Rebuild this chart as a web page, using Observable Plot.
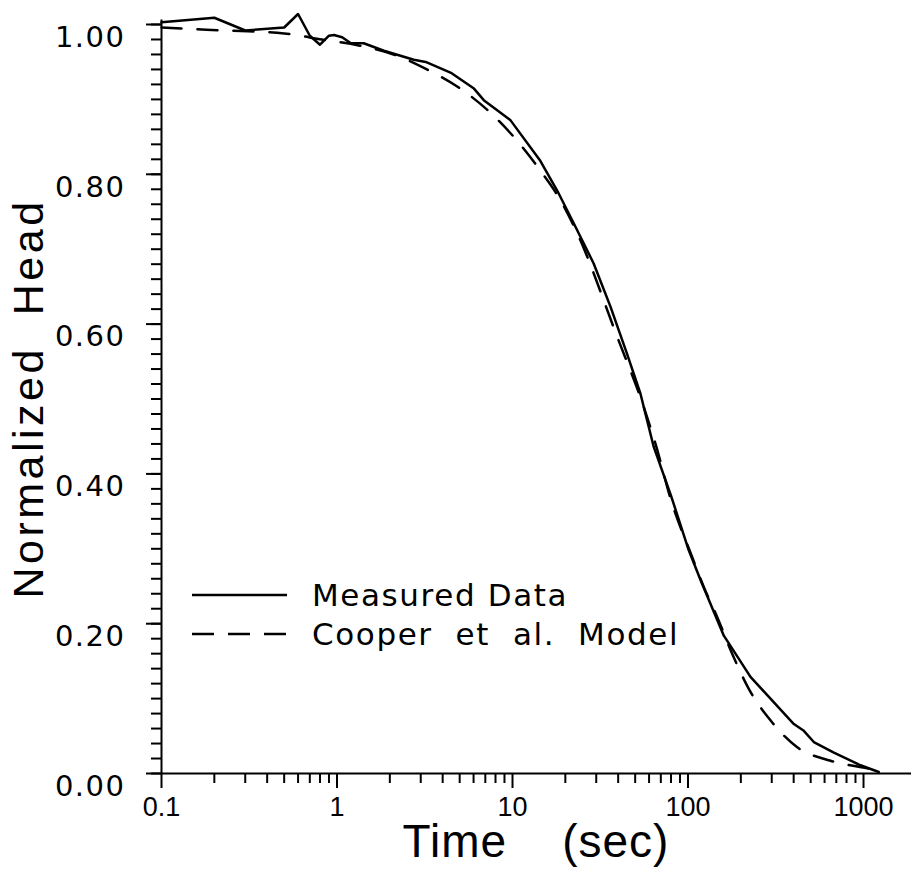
<!DOCTYPE html>
<html><head><meta charset="utf-8">
<script src="https://cdn.jsdelivr.net/npm/d3@7"></script>
<script src="https://cdn.jsdelivr.net/npm/@observablehq/plot@0.6"></script>
<style>
html,body{margin:0;padding:0;background:#fff;}
#chart{position:relative;width:911px;height:870px;}
#chart svg{overflow:visible;}
</style></head><body><div id="chart"></div>
<script>
// ---- data ----
const measuredTime = [0.1, 0.2, 0.3, 0.5, 0.6, 0.7, 0.8, 0.9, 0.96, 1.07, 1.2, 1.42, 1.85, 2.74, 3.2, 4.5, 6.0, 6.86, 9.75, 14.4, 18.0, 22.4, 29.0, 36.2, 45.0, 53.6, 63.8, 80, 101, 118, 160, 227, 401, 457, 521, 678, 961, 1222];
const measuredHead = [1.003, 1.009, 0.992, 0.996, 1.014, 0.985, 0.973, 0.985, 0.986, 0.983, 0.975, 0.975, 0.965, 0.953, 0.950, 0.935, 0.915, 0.899, 0.872, 0.818, 0.778, 0.734, 0.681, 0.623, 0.560, 0.507, 0.436, 0.371, 0.298, 0.258, 0.184, 0.129, 0.066, 0.057, 0.042, 0.028, 0.011, 0.002];
const modelTime = [0.1, 0.18, 0.31, 0.5, 0.82, 1.33, 2.16, 3.19, 5.0, 7.5, 10.6, 14.4, 18.8, 23.4, 39.5, 56, 65.3, 80, 105.6, 123, 146.6, 178.5, 222, 295, 419, 649, 1097, 1200];
const modelHead = [0.996, 0.993, 0.991, 0.988, 0.980, 0.972, 0.959, 0.941, 0.915, 0.882, 0.845, 0.805, 0.765, 0.721, 0.583, 0.489, 0.440, 0.365, 0.289, 0.249, 0.209, 0.160, 0.113, 0.071, 0.035, 0.017, 0.006, 0.004];
const seriesNames = ["Measured Data", "Cooper  et  al.  Model"];
const xMajorTicks = [0.1, 1, 10, 100, 1000];
const xTickLabels = ["0.1", "1", "10", "100", "1000"];
const yMajorTicks = [0, 0.2, 0.4, 0.6, 0.8, 1.0];
const yTickLabels = ["0.00", "0.20", "0.40", "0.60", "0.80", "1.00"];
const xTitle = "Time    (sec)";
const yTitle = "Normalized  Head";
const xDomain = [0.1, 1877];
const yDomain = [0, 1];

// minor ticks
const xMinorTicks = [];
for (const d of xMajorTicks) for (let k = 2; k <= 9; k++) if (d * k <= xDomain[1]) xMinorTicks.push(d * k);
const yMinorTicks = d3.range(0, 51).map(i => +(i * 0.02).toFixed(2));

const measured = measuredTime.map((t, i) => ({t, h: measuredHead[i]}));
const model = modelTime.map((t, i) => ({t, h: modelHead[i]}));

const chart = Plot.plot({
  width: 911,
  height: 870,
  marginLeft: 161,
  marginRight: 0,
  marginTop: 24,
  marginBottom: 97,
  style: {background: "#fff", color: "#000", overflow: "visible"},
  x: {type: "log", domain: xDomain, axis: null},
  y: {domain: yDomain, axis: null},
  marks: [
    Plot.axisX(xMinorTicks, {tickSize: 10, text: null, strokeWidth: 2, label: null}),
    Plot.axisX(xMajorTicks, {tickSize: 15, strokeWidth: 2, tickPadding: 8, label: null,
      tickFormat: d => xTickLabels[xMajorTicks.indexOf(d)], fontSize: 27, fontFamily: "Liberation Sans"}),
    Plot.axisY(yMinorTicks, {tickSize: 10, text: null, strokeWidth: 2, label: null}),
    Plot.axisY(yMajorTicks, {tickSize: 15, strokeWidth: 2, tickPadding: 21, label: null,
      tickFormat: d => yTickLabels[yMajorTicks.indexOf(d)], fontSize: 29, fontFamily: "DejaVu Sans"}),
    Plot.ruleY([0], {stroke: "#000", strokeWidth: 2}),
    Plot.ruleX([0.1], {y1: 0, y2: 1.006, stroke: "#000", strokeWidth: 2}),
    Plot.line(model, {x: "t", y: "h", stroke: "#000", strokeWidth: 2.5, strokeDasharray: "20,16", curve: "monotone-x"}),
    Plot.line(measured, {x: "t", y: "h", stroke: "#000", strokeWidth: 2.5})
  ]
});
document.getElementById("chart").appendChild(chart);

const svg = d3.select(chart);
svg.selectAll('g[aria-label="y-axis tick label"] text').style("letter-spacing", "1.5px").attr("dy", "0.45em");

const xs = chart.scale("x"), ys = chart.scale("y");
const xMid = (xs.range[0] + xs.range[1]) / 2;
const yMid = (ys.range[0] + ys.range[1]) / 2;

svg.append("text").text(xTitle)
  .attr("x", xMid).attr("y", 857).attr("text-anchor", "middle")
  .style("white-space", "pre").style("font-family", "Liberation Sans").style("font-size", "46px")
  .style("letter-spacing", "1px").attr("fill", "#000");
svg.append("text").text(yTitle)
  .attr("transform", `translate(43,${yMid}) rotate(-90)`).attr("text-anchor", "middle")
  .style("white-space", "pre").style("font-family", "Liberation Sans").style("font-size", "43px")
  .style("letter-spacing", "3.5px").attr("fill", "#000");

// legend
const legend = svg.append("g").attr("aria-label", "legend");
const rows = [{name: seriesNames[0], dash: null, y: 595}, {name: seriesNames[1], dash: "22,14", y: 634}];
for (const r of rows) {
  legend.append("line").attr("x1", 192).attr("x2", 287).attr("y1", r.y).attr("y2", r.y)
    .attr("stroke", "#000").attr("stroke-width", 2.5).attr("stroke-dasharray", r.dash);
  legend.append("text").text(r.name).attr("x", 312).attr("y", r.y + 11)
    .attr("text-anchor", "start")
    .style("white-space", "pre").style("font-family", "DejaVu Sans").style("font-size", "31px")
    .style("letter-spacing", "1.6px").attr("fill", "#000");
}
</script></body></html>
